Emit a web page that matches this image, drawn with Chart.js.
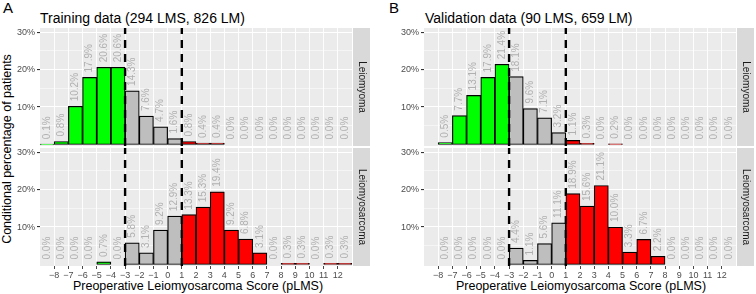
<!DOCTYPE html>
<html>
<head>
<meta charset="utf-8">
<script src="https://cdn.jsdelivr.net/npm/chart.js@4.4.1/dist/chart.umd.min.js"></script>
<style>
  body { margin: 0; background: #fff; width: 756px; height: 294px; position: relative; overflow: hidden; font-family: "Liberation Sans", Arial, sans-serif; }
  canvas { position: absolute; }
  .txt { position: absolute; white-space: nowrap; color: #000; }
  .ytitle { left: 7px; top: 149px; font-size: 12.5px; line-height: 13px; transform: translate(-50%, -50%) rotate(-90deg); }
</style>
</head>
<body>
<div class="txt" style="left:3px;top:0px;font-size:15px;line-height:15px">A</div>
<div class="txt" style="left:389px;top:0px;font-size:15px;line-height:15px">B</div>
<div class="txt" style="left:40px;top:11px;font-size:14px;line-height:14px">Training data (294 LMS, 826 LM)</div>
<div class="txt" style="left:425px;top:11px;font-size:14px;line-height:14px">Validation data (90 LMS, 659 LM)</div>
<div class="txt ytitle">Conditional percentage of patients</div>
<div class="txt" style="left:48px;top:280px;width:300px;text-align:center;font-size:12.5px;line-height:12px">Preoperative Leiomyosarcoma Score (pLMS)</div>
<div class="txt" style="left:431px;top:280px;width:300px;text-align:center;font-size:12.5px;line-height:12px">Preoperative Leiomyosarcoma Score (pLMS)</div>

<canvas id="trainTop"></canvas>
<canvas id="trainBottom"></canvas>
<canvas id="validTop"></canvas>
<canvas id="validBottom"></canvas>

<script>
// DATA ------------------------------------------------------------------
// bin centres (pLMS bins of width 1)
var binsTrain = [-8.5, -7.5, -6.5, -5.5, -4.5, -3.5, -2.5, -1.5, -0.5, 0.5, 1.5, 2.5, 3.5, 4.5, 5.5, 6.5, 7.5, 8.5, 9.5, 10.5, 11.5, 12.5];
var binsValid = [-7.5, -6.5, -5.5, -4.5, -3.5, -2.5, -1.5, -0.5, 0.5, 1.5, 2.5, 3.5, 4.5, 5.5, 6.5, 7.5, 8.5, 9.5, 10.5, 11.5, 12.5];

// conditional percentage of patients per bin
var trainLM  = [0.1, 0.8, 10.2, 17.9, 20.6, 20.6, 14.3, 7.6, 4.7, 1.6, 0.8, 0.4, 0.4, 0, 0, 0, 0, 0, 0, 0, 0, 0];
var trainLMS = [0, 0, 0, 0, 0.7, 0, 5.8, 3.1, 9.2, 12.9, 13.3, 15.3, 19.4, 9.2, 6.8, 3.1, 0, 0.3, 0.3, 0, 0.3, 0.3];
var validLM  = [0.5, 7.7, 13.1, 17.9, 21.4, 18.1, 9.6, 7.1, 3.2, 1.1, 0.3, 0, 0.2, 0, 0, 0, 0, 0, 0, 0, 0];
var validLMS = [0, 0, 0, 0, 0, 4.4, 1.1, 5.6, 11.1, 18.9, 15.6, 21.1, 10.0, 3.3, 6.7, 2.2, 0, 0, 0, 0, 0];

var xTicks = [-8, -7, -6, -5, -4, -3, -2, -1, 0, 1, 2, 3, 4, 5, 6, 7, 8, 9, 10, 11, 12];
var yTicks = [5, 10, 15, 20, 25, 30];
var cutoffs = [-3, 1];

// STYLE -----------------------------------------------------------------
var FONT = '"Liberation Sans", Arial, sans-serif';

function binColor(c) {
  if (c < cutoffs[0]) return '#00ff00';
  if (c < cutoffs[1]) return '#bebebe';
  return '#ff0000';
}

// background, labels, cutoff lines and strip for one facet
function decoPlugin(values, stripText) {
  return {
    id: 'deco',
    beforeDraw: function (chart) {
      var a = chart.chartArea, ctx = chart.ctx;
      ctx.save();
      ctx.fillStyle = '#ebebeb';
      ctx.fillRect(a.left, a.top, a.right - a.left, a.bottom - a.top);
      ctx.restore();
    },
    afterDatasetsDraw: function (chart) {
      var a = chart.chartArea, ctx = chart.ctx;
      var xs = chart.scales.x, ys = chart.scales.y;
      var bars = chart.getDatasetMeta(0).data;
      ctx.save();
      // cutoff lines
      ctx.strokeStyle = '#000';
      ctx.lineWidth = 2.4;
      ctx.setLineDash([8, 6]);
      cutoffs.forEach(function (c) {
        var x = xs.getPixelForValue(c);
        ctx.beginPath();
        ctx.moveTo(x, a.bottom);
        ctx.lineTo(x, a.top);
        ctx.stroke();
      });
      ctx.setLineDash([]);
      // value labels
      ctx.fillStyle = '#b0b0b0';
      ctx.font = '10px ' + FONT;
      ctx.textAlign = 'left';
      ctx.textBaseline = 'middle';
      values.forEach(function (v, i) {
        var x = bars[i].x;
        var y = ys.getPixelForValue(v) - 5;
        ctx.save();
        ctx.translate(x, y);
        ctx.rotate(-Math.PI / 2);
        ctx.fillText(v.toFixed(1) + '%', 0, 0);
        ctx.restore();
      });
      ctx.restore();
    },
    afterDraw: function (chart) {
      var a = chart.chartArea, ctx = chart.ctx;
      ctx.save();
      ctx.fillStyle = '#d9d9d9';
      ctx.fillRect(a.right + 1, a.top, 17, a.bottom - a.top);
      ctx.fillStyle = '#1a1a1a';
      ctx.font = '10px ' + FONT;
      ctx.textAlign = 'center';
      ctx.textBaseline = 'middle';
      ctx.translate(a.right + 9.5, (a.top + a.bottom) / 2);
      ctx.rotate(Math.PI / 2);
      ctx.fillText(stripText, 0, 0);
      ctx.restore();
    }
  };
}

function makePanel(id, panelLeft, panelTop, bins, values, bottom, stripText) {
  var cv = document.getElementById(id);
  cv.width = 374;
  cv.height = 10 + 118 + (bottom ? 18 : 10);
  cv.style.left = (panelLeft - 40) + 'px';
  cv.style.top = (panelTop - 10) + 'px';

  var pts = bins.map(function (b, i) {
    return { x: b, y: values[i] > 0 ? values[i] : null };
  });

  return new Chart(cv.getContext('2d'), {
    type: 'bar',
    data: {
      datasets: [{
        data: pts,
        backgroundColor: bins.map(binColor),
        borderColor: '#000',
        borderWidth: 1.2,
        borderSkipped: false,
        barPercentage: 1,
        categoryPercentage: 1
      }]
    },
    options: {
      responsive: false,
      animation: false,
      devicePixelRatio: 1,
      layout: { padding: { left: 0, right: 22, top: 10, bottom: bottom ? 0 : 10 } },
      plugins: { legend: { display: false }, tooltip: { enabled: false } },
      scales: {
        x: {
          type: 'linear', min: -9, max: 13, offset: false,
          afterBuildTicks: function (s) { s.ticks = xTicks.map(function (v) { return { value: v }; }); },
          afterFit: function (s) { s.height = bottom ? 18 : 0; },
          grid: { color: '#ffffff', lineWidth: 0.9, offset: false, drawTicks: bottom, tickLength: 3, tickColor: '#333333' },
          border: { display: false },
          ticks: {
            display: bottom, autoSkip: false, maxRotation: 0, padding: 1,
            color: '#4d4d4d', font: { family: FONT, size: 9 },
            callback: function (v) { return String(v).replace('-', '\u2212'); }
          }
        },
        y: {
          min: -0.4, max: 31.1,
          afterBuildTicks: function (s) { s.ticks = yTicks.map(function (v) { return { value: v }; }); },
          afterFit: function (s) { s.width = 40; },
          grid: {
            color: '#ffffff', tickLength: 3,
            lineWidth: function (c) { return c.tick && c.tick.value % 10 === 0 ? 1.1 : 0.5; },
            tickColor: function (c) { return c.tick && c.tick.value % 10 === 0 ? '#333333' : 'rgba(0,0,0,0)'; }
          },
          border: { display: false },
          ticks: {
            padding: 2, color: '#4d4d4d', font: { family: FONT, size: 9 },
            callback: function (v) { return v % 10 === 0 ? v + '%' : ''; }
          }
        }
      }
    },
    plugins: [decoPlugin(values, stripText)]
  });
}

makePanel('trainTop', 40, 28, binsTrain, trainLM, false, 'Leiomyoma');
makePanel('trainBottom', 40, 148, binsTrain, trainLMS, true, 'Leiomyosarcoma');
makePanel('validTop', 424, 28, binsValid, validLM, false, 'Leiomyoma');
makePanel('validBottom', 424, 148, binsValid, validLMS, true, 'Leiomyosarcoma');
</script>
</body>
</html>
